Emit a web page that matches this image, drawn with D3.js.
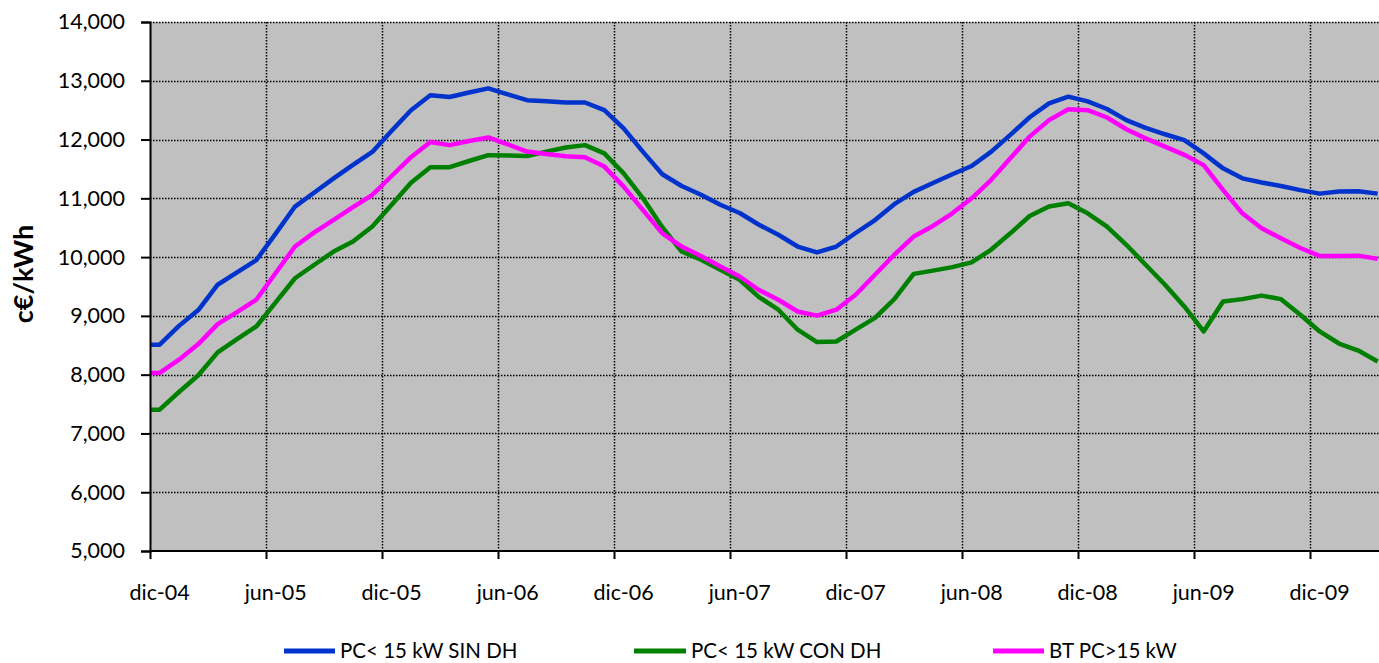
<!DOCTYPE html>
<html>
<head>
<meta charset="utf-8">
<script src="https://cdn.jsdelivr.net/npm/d3@7"></script>
<style>
  html, body { margin: 0; padding: 0; background: #ffffff; }
  svg { display: block; }
  text { font-family: Lato, "Open Sans", sans-serif; fill: #000; }
</style>
</head>
<body>
<svg id="chart" width="1379" height="663"></svg>
<script>
// ---- data ----
const months = [
  "dic-04","ene-05","feb-05","mar-05","abr-05","may-05","jun-05","jul-05","ago-05","sep-05","oct-05","nov-05",
  "dic-05","ene-06","feb-06","mar-06","abr-06","may-06","jun-06","jul-06","ago-06","sep-06","oct-06","nov-06",
  "dic-06","ene-07","feb-07","mar-07","abr-07","may-07","jun-07","jul-07","ago-07","sep-07","oct-07","nov-07",
  "dic-07","ene-08","feb-08","mar-08","abr-08","may-08","jun-08","jul-08","ago-08","sep-08","oct-08","nov-08",
  "dic-08","ene-09","feb-09","mar-09","abr-09","may-09","jun-09","jul-09","ago-09","sep-09","oct-09","nov-09",
  "dic-09","ene-10","feb-10","mar-10"
];
const sinDH = [
  8510, 8830, 9100, 9530, 9740, 9950, 10400, 10860, 11100, 11340, 11570, 11790,
  12150, 12500, 12755, 12725, 12800, 12870, 12770, 12670, 12650, 12630, 12630, 12500,
  12190, 11790, 11410, 11210, 11060, 10890, 10750, 10550, 10380, 10180, 10080, 10180,
  10410, 10630, 10900, 11110, 11260, 11410, 11550, 11790, 12080, 12380, 12615, 12730,
  12650, 12520, 12330, 12200, 12090, 11990, 11765, 11510, 11340, 11270, 11210, 11140,
  11080, 11115, 11120, 11080
];
const conDH = [
  7405, 7705, 7990, 8380, 8605, 8820, 9230, 9640, 9870, 10095, 10265, 10520,
  10890, 11265, 11530, 11530, 11635, 11735, 11730, 11720, 11795, 11865, 11905, 11765,
  11425, 11000, 10510, 10095, 9955, 9785, 9615, 9320, 9105, 8765, 8555, 8565,
  8765, 8965, 9285, 9715, 9770, 9830, 9910, 10125, 10405, 10700, 10860, 10915,
  10745, 10520, 10210, 9870, 9530, 9160, 8735, 9245, 9285, 9345, 9285, 9020,
  8735, 8530, 8410, 8225
];
const btPC15 = [
  8030, 8255, 8520, 8860, 9065, 9275, 9730, 10180, 10420, 10635, 10850, 11060,
  11380, 11700, 11960, 11905, 11975, 12035, 11920, 11795, 11755, 11715, 11700, 11540,
  11200, 10800, 10405, 10180, 10020, 9840, 9670, 9440, 9275, 9075, 9005, 9105,
  9360, 9700, 10040, 10350, 10530, 10745, 11000, 11310, 11680, 12050, 12330, 12515,
  12500, 12375, 12175, 12020, 11880, 11740, 11565, 11145, 10745, 10490, 10320, 10155,
  10020, 10020, 10025, 9970
];
const seriesNames = ["PC< 15 kW SIN DH", "PC< 15 kW CON DH", "BT PC>15 kW"];
const seriesColors = ["#0033CC", "#008000", "#FF00FF"];
const xTickLabels = ["dic-04","jun-05","dic-05","jun-06","dic-06","jun-07","dic-07","jun-08","dic-08","jun-09","dic-09"];
const yTicks = [5000, 6000, 7000, 8000, 9000, 10000, 11000, 12000, 13000, 14000];
const yTitle = "c€/kWh";

// ---- layout ----
const plot = { left: 150, right: 1379, top: 22, bottom: 551 };
const svg = d3.select("#chart");

const x = d3.scaleLinear()
  .domain([0, 60])               // month offsets from dic-04
  .range([plot.left, 1310]);
const y = d3.scaleLinear()
  .domain([5000, 14000])
  .range([plot.bottom, plot.top]);

// plot background
svg.append("rect")
  .attr("x", plot.left).attr("y", plot.top)
  .attr("width", plot.right - plot.left + 5).attr("height", plot.bottom - plot.top)
  .attr("fill", "#C0C0C0");

// gridlines
const tickIdx = xTickLabels.map(l => months.indexOf(l));
const grid = svg.append("g");
grid.selectAll("line.h").data(yTicks.filter(v => v > 5000)).enter().append("line")
  .attr("x1", plot.left).attr("x2", plot.right + 5)
  .attr("y1", d => Math.round(y(d)) + 0.5).attr("y2", d => Math.round(y(d)) + 0.5)
  .attr("stroke", "#000").attr("stroke-width", 1.5).attr("stroke-dasharray", "1.5,1.5");
grid.selectAll("line.v").data(tickIdx.filter(i => i > 0)).enter().append("line")
  .attr("x1", d => Math.round(x(d)) + 0.5).attr("x2", d => Math.round(x(d)) + 0.5)
  .attr("y1", plot.top).attr("y2", plot.bottom)
  .attr("stroke", "#000").attr("stroke-width", 1.5).attr("stroke-dasharray", "1.5,1.5");

// clip
svg.append("clipPath").attr("id", "clip").append("rect")
  .attr("x", plot.left).attr("y", plot.top - 10)
  .attr("width", plot.right - plot.left + 10).attr("height", plot.bottom - plot.top + 20);

// lines
const allSeries = [sinDH, conDH, btPC15];
const line = d3.line().x(d => x(d.t)).y(d => y(d.v));
const drawOrder = [1, 2, 0];
const lines = svg.append("g").attr("clip-path", "url(#clip)");
drawOrder.forEach(k => {
  const vals = allSeries[k];
  const pts = [{ t: 0, v: vals[0] }].concat(vals.map((v, i) => ({ t: i + 0.5, v })));
  lines.append("path")
    .attr("d", line(pts))
    .attr("fill", "none")
    .attr("stroke", seriesColors[k])
    .attr("stroke-width", 4.5)
    .attr("stroke-linejoin", "round");
});

// axes
const yAxis = d3.axisLeft(y).tickValues(yTicks).tickFormat(d3.format(",")).tickSize(9).tickPadding(16);
const gy = svg.append("g").attr("transform", `translate(${plot.left},0)`).call(yAxis);
gy.select(".domain").attr("stroke", "#000").attr("stroke-width", 2);
gy.selectAll(".tick line").attr("stroke", "#000").attr("stroke-width", 2);
gy.selectAll(".tick text").style("font-size", "21.5px").style("font-family", "Lato, sans-serif");

const xAxis = d3.axisBottom(x).tickValues(tickIdx).tickFormat("").tickSize(8).tickSizeOuter(0);
const gx = svg.append("g").attr("transform", `translate(0,${plot.bottom})`).call(xAxis);
gx.select(".domain").attr("stroke", "#000").attr("stroke-width", 2)
  .attr("d", `M${plot.left},0H${plot.right + 5}`);
gx.selectAll(".tick line").attr("stroke", "#000").attr("stroke-width", 2);
svg.append("g").selectAll("text").data(xTickLabels).enter().append("text")
  .attr("x", d => x(months.indexOf(d) + 0.5))
  .attr("y", 600)
  .attr("text-anchor", "middle")
  .style("font-size", "21.5px")
  .text(d => d);

// y title
svg.append("text")
  .attr("transform", `translate(33,274) rotate(-90)`)
  .attr("text-anchor", "middle")
  .style("font-size", "27px").style("font-weight", "bold")
  .text(yTitle);

// legend
const legendX = [284, 634, 993];
const legendLen = [51, 52, 51];
const lg = svg.append("g");
seriesNames.forEach((n, k) => {
  lg.append("line")
    .attr("x1", legendX[k]).attr("x2", legendX[k] + legendLen[k])
    .attr("y1", 651).attr("y2", 651)
    .attr("stroke", seriesColors[k]).attr("stroke-width", 5);
  lg.append("text")
    .attr("x", legendX[k] + legendLen[k] + 5).attr("y", 658)
    .style("font-size", "20.5px")
    .text(n);
});
</script>
</body>
</html>
